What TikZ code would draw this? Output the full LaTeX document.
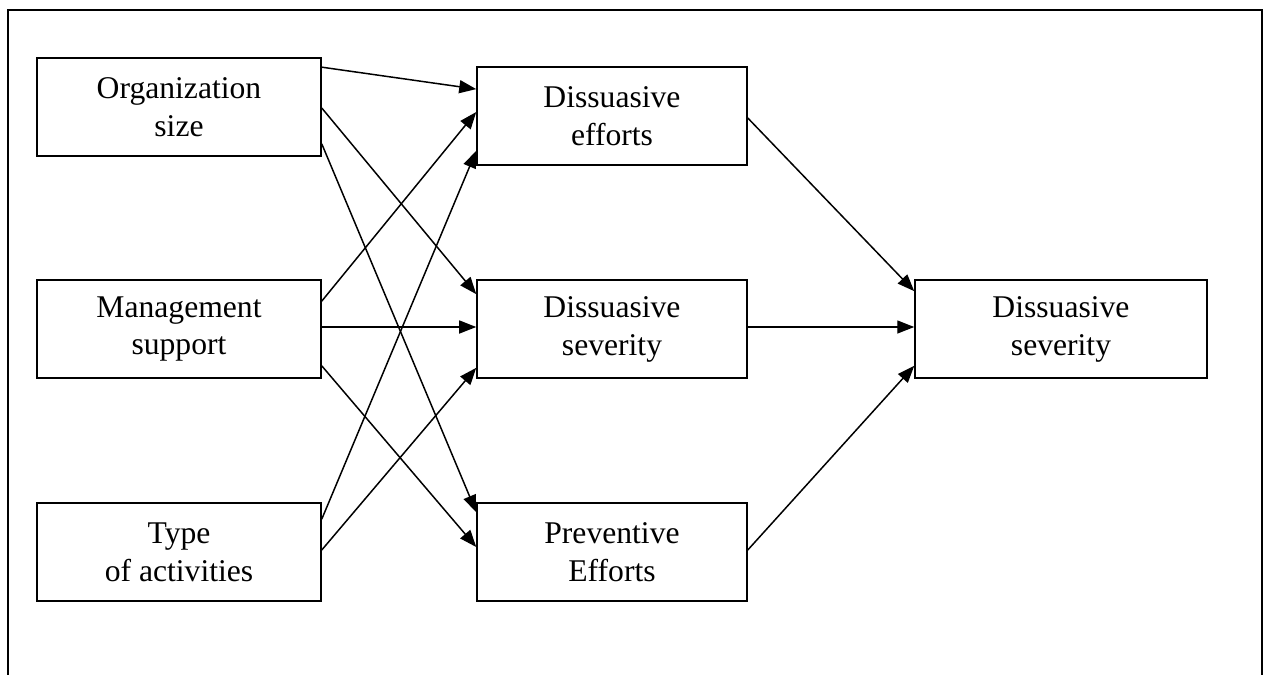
\documentclass[tikz,border=0pt]{standalone}
\usepackage{fontspec}
\setmainfont{Liberation Serif}
\usetikzlibrary{calc,arrows.meta}

\tikzset{
    factor/.style={draw=black, line width=0.9pt, align=center, minimum width=5.68cm,
        minimum height=1.96cm, inner sep=0pt, font=\fontsize{18}{21.6}\selectfont},
    midbox/.style={factor, minimum width=5.4cm},
    outbox/.style={factor, minimum width=5.84cm},
    link/.style={line width=0.85pt, -{Triangle[length=0.34cm, width=0.26cm]}}
}

\begin{document}
\begin{tikzpicture}[x=0.02cm, y=-0.02cm]
    \useasboundingbox (0,0) rectangle (1265,675);
    % Frame (open at the bottom)
    \draw[line width=0.7pt] (8,690) -- (8,10) -- (1262,10) -- (1262,690);

    % Define nodes
    \node[factor] (org)  at (179,107) {Organization\\size};
    \node[factor] (mgmt) at (179,329) {Management\\support};
    \node[factor] (type) at (179,552) {Type\\of activities};

    \node[midbox] (eff)  at (612,116) {Dissuasive\\efforts};
    \node[midbox] (sev)  at (612,329) {Dissuasive\\severity};
    \node[midbox] (prev) at (612,552) {Preventive\\Efforts};

    \node[outbox] (out)  at (1061,329) {Dissuasive\\severity};

    % Organization size
    \draw[link] ($(org.north east)!0.10!(org.south east)$) -- ($(eff.north west)!0.23!(eff.south west)$);
    \draw[link] ($(org.north east)!0.51!(org.south east)$) -- ($(sev.north west)!0.15!(sev.south west)$);
    \draw[link] ($(org.north east)!0.87!(org.south east)$) -- ($(prev.north west)!0.10!(prev.south west)$);

    % Management support
    \draw[link] ($(mgmt.north east)!0.22!(mgmt.south east)$) -- ($(eff.north west)!0.46!(eff.south west)$);
    \draw[link] ($(mgmt.north east)!0.48!(mgmt.south east)$) -- ($(sev.north west)!0.48!(sev.south west)$);
    \draw[link] ($(mgmt.north east)!0.87!(mgmt.south east)$) -- ($(prev.north west)!0.45!(prev.south west)$);

    % Type of activities
    \draw[link] ($(type.north east)!0.17!(type.south east)$) -- ($(eff.north west)!0.85!(eff.south west)$);
    \draw[link] ($(type.north east)!0.48!(type.south east)$) -- ($(sev.north west)!0.89!(sev.south west)$);

    % Middle column to outcome
    \draw[link] ($(eff.north east)!0.52!(eff.south east)$) -- ($(out.north west)!0.12!(out.south west)$);
    \draw[link] ($(sev.north east)!0.48!(sev.south east)$) -- ($(out.north west)!0.48!(out.south west)$);
    \draw[link] ($(prev.north east)!0.48!(prev.south east)$) -- ($(out.north west)!0.87!(out.south west)$);
\end{tikzpicture}
\end{document}
